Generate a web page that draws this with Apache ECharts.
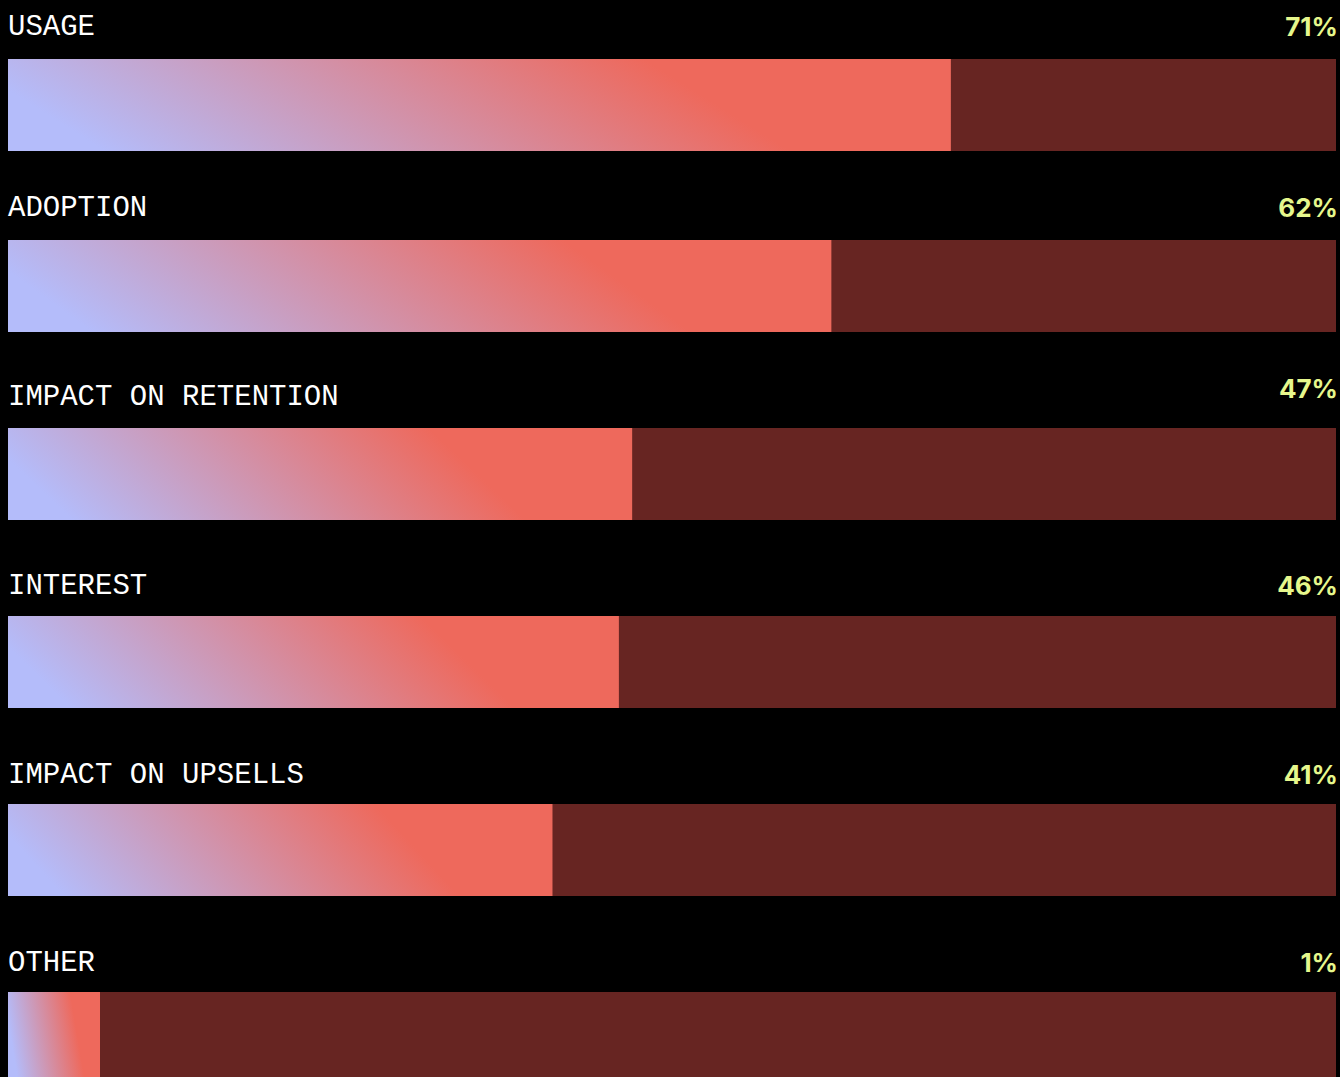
<!DOCTYPE html>
<html>
<head>
<meta charset="utf-8">
<title>Survey results</title>
<script src="https://cdn.jsdelivr.net/npm/echarts@6/dist/echarts.min.js"></script>
<style>
  html, body { margin: 0; padding: 0; background: #000; }
  #chart { width: 1340px; height: 1077px; }
</style>
</head>
<body>
<div id="chart"></div>
<script>
// Data
const categories = ['USAGE', 'ADOPTION', 'IMPACT ON RETENTION', 'INTEREST', 'IMPACT ON UPSELLS', 'OTHER'];
const values = [71, 62, 47, 46, 41, 1];
const scaleMax = 100;

// Layout: one grid per row
const ROW_TOPS = [59, 240, 428, 616, 804, 992];
const BAR_H = 92;
const NAME_DY = [-32, -32, -31, -30, -29, -29];
const PCT_DY = [-33, -33, -40, -31, -30, -30];

const TRACK = '#672522';
const LAVENDER = '#b4bcfa';
const CORAL = '#ee695c';

// gradient in bar-local (bounding box) space, slightly tilted
const barFill = new echarts.graphic.LinearGradient(0.025, 0.5, 0.735, 0.39, [
  { offset: 0, color: LAVENDER },
  { offset: 1, color: CORAL }
]);

const grids = [], xAxes = [], yAxes = [], series = [];
categories.forEach((name, i) => {
  grids.push({ left: 8, right: 4, top: ROW_TOPS[i], height: BAR_H, containLabel: false });
  xAxes.push({ type: 'value', gridIndex: i, min: 0, max: scaleMax, show: false });
  yAxes.push({ type: 'category', gridIndex: i, data: [name], show: false });

  // full-width track, carrying the percentage at its right end
  series.push({
    type: 'bar',
    xAxisIndex: i, yAxisIndex: i,
    barWidth: BAR_H,
    silent: true,
    z: 1,
    itemStyle: { color: TRACK },
    label: {
      show: true,
      position: ['100%', PCT_DY[i]],
      offset: [2, 0],
      align: 'right',
      verticalAlign: 'middle',
      formatter: () => values[i] + '%',
      color: '#e6f78c',
      fontFamily: 'Inter',
      fontWeight: 'bold',
      fontSize: 26
    },
    data: [scaleMax]
  });

  // value bar, carrying the category name above its left edge
  series.push({
    type: 'bar',
    xAxisIndex: i, yAxisIndex: i,
    barWidth: BAR_H,
    barGap: '-100%',
    barMinHeight: 92,
    silent: true,
    z: 2,
    itemStyle: { color: barFill },
    label: {
      show: true,
      position: [0, NAME_DY[i]],
      align: 'left',
      verticalAlign: 'middle',
      formatter: '{b}',
      color: '#ffffff',
      fontFamily: 'Liberation Mono',
      fontSize: 29
    },
    data: [values[i]]
  });
});

const chart = echarts.init(document.getElementById('chart'), null, { renderer: 'svg' });
chart.setOption({
  backgroundColor: '#000000',
  animation: false,
  grid: grids,
  xAxis: xAxes,
  yAxis: yAxes,
  series: series
});
</script>
</body>
</html>
